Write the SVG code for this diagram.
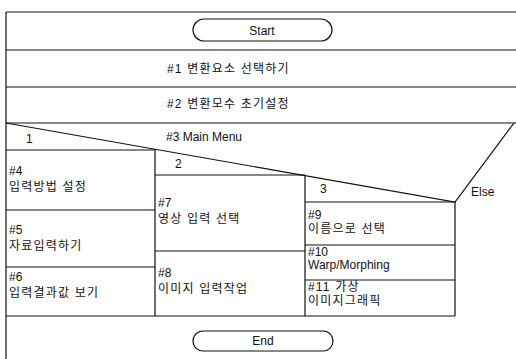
<svg xmlns="http://www.w3.org/2000/svg" width="516" height="359" viewBox="0 0 516 359">
<style>
.ln{stroke:#111;stroke-width:1.2;fill:none}
.pill{stroke:#111;stroke-width:1.2;fill:#fff}
text{font-family:"Liberation Sans","Noto Sans CJK KR",sans-serif;font-size:12px;fill:#111}
.c{text-anchor:middle}
.k{letter-spacing:1.2px}
</style>
<rect width="516" height="359" fill="#fff"/>
<g id="connectors">
<path class="ln" d="M6,12H516M6,50H516M6,87H516M6,123H516M6,12V359"/>
<path class="ln" d="M6,123L455,202L514,123"/>
<path class="ln" d="M6,150H155M155,149V316M155,175H305M305,176V316M305,202H455M455,202V316"/>
<path class="ln" d="M6,210H155M6,267H155M155,251H305M305,245H455M305,280H455M6,316H455"/>
</g>
<g id="start"><rect class="pill" x="193" y="19" width="139" height="22" rx="11"/><text class="c" x="262" y="35">Start</text></g>
<g id="n1"><text class="k" x="167" y="73">#1 변환요소 선택하기</text></g>
<g id="n2"><text class="k" x="167" y="108">#2 변환모수 초기설정</text></g>
<g id="n3"><text x="166" y="141">#3 Main Menu</text><text x="26" y="143">1</text><text x="175" y="168">2</text><text x="320" y="193">3</text><text x="471" y="196">Else</text></g>
<g id="n4"><text x="9" y="175">#4</text><text class="k" x="9" y="191">입력방법 설정</text></g>
<g id="n5"><text x="9" y="234">#5</text><text class="k" x="9" y="250">자료입력하기</text></g>
<g id="n6"><text x="9" y="281">#6</text><text class="k" x="9" y="297">입력결과값 보기</text></g>
<g id="n7"><text x="158" y="207">#7</text><text class="k" x="158" y="223">영상 입력 선택</text></g>
<g id="n8"><text x="158" y="277">#8</text><text class="k" x="158" y="293">이미지 입력작업</text></g>
<g id="n9"><text x="308" y="219">#9</text><text class="k" x="308" y="233">이름으로 선택</text></g>
<g id="n10"><text x="308" y="256">#10</text><text x="308" y="269">Warp/Morphing</text></g>
<g id="n11"><text class="k" x="308" y="291">#11 가상</text><text class="k" x="308" y="305">이미지그래픽</text></g>
<g id="end"><rect class="pill" x="193" y="331" width="140" height="20" rx="10"/><text class="c" x="263" y="345">End</text></g>
</svg>
